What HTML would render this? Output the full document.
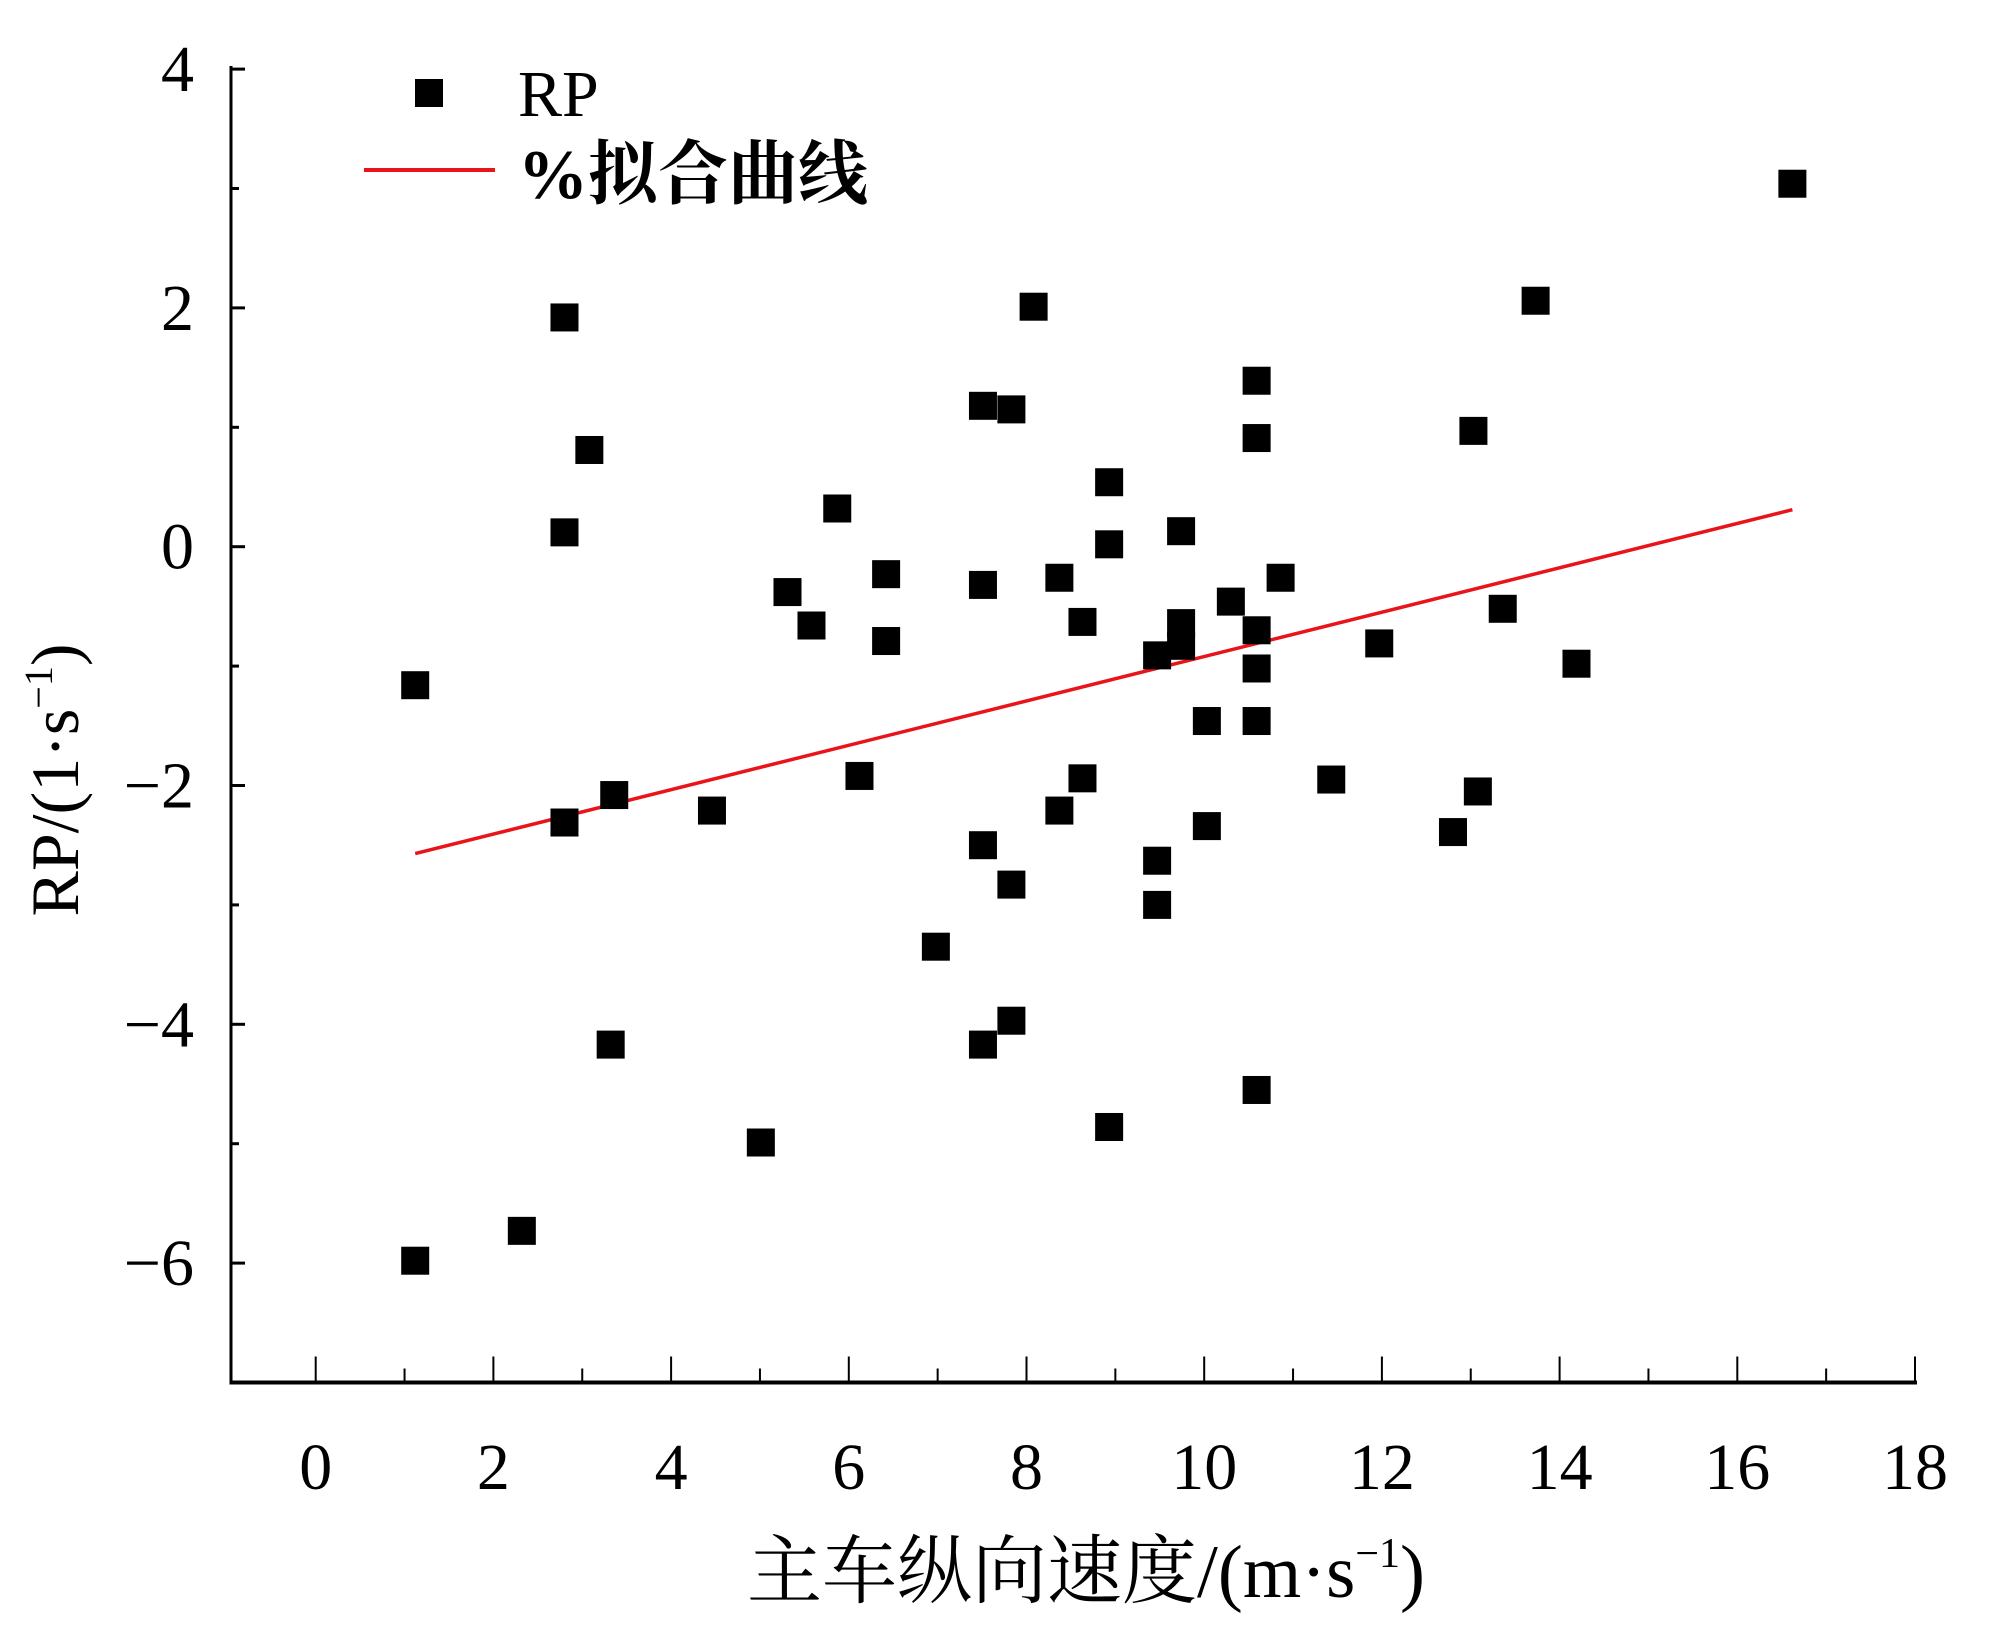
<!DOCTYPE html>
<html><head><meta charset="utf-8"><style>
html,body{margin:0;padding:0;background:#fff;}
svg{display:block;font-family:"Liberation Serif","Noto Serif CJK SC",serif;}
</style></head><body>
<svg id="chart" width="1994" height="1646" viewBox="0 0 1994 1646" xmlns="http://www.w3.org/2000/svg">
<g id="axes"></g>
<g id="fit"></g>
<g id="pts"></g>
<g>
  <rect x="415" y="79" width="28" height="28" fill="#000"/>
  <text x="518" y="116" font-size="66">RP</text>
  <line x1="364" y1="170" x2="495" y2="170" stroke="#e8141a" stroke-width="4"/>
  <text x="518" y="198" font-size="70" font-weight="bold" font-family="'Liberation Serif','Noto Serif CJK SC',serif">%拟合曲线</text>
</g>
<text x="1086" y="1597" font-size="75" text-anchor="middle">主车纵向速度/(m·s<tspan font-size="42" dy="-30">−1</tspan><tspan dy="30">)</tspan></text>
<text transform="translate(78,780) rotate(-90)" font-size="68" text-anchor="middle">RP/(1·s<tspan font-size="40" dy="-26">−1</tspan><tspan dy="26">)</tspan></text>
</svg>
<script>
const xTicks=[0,2,4,6,8,10,12,14,16,18];
const yTicks=[-6,-4,-2,0,2,4];
const yTickLabels=['−6','−4','−2','0','2','4'];
const xVals=[1.12,1.12,2.32,2.80,2.80,2.80,3.08,3.36,3.32,4.46,5.01,5.31,5.58,5.87,6.12,6.42,6.42,6.98,7.51,7.83,7.51,7.51,7.83,7.83,7.51,8.08,8.37,8.63,8.37,8.63,8.93,8.93,8.93,9.47,9.47,9.47,9.74,9.74,9.74,10.03,10.03,10.30,10.59,10.59,10.59,10.59,10.59,10.59,10.86,11.43,11.97,12.80,13.03,13.08,13.36,13.73,14.19,16.62];
const yVals=[-1.16,-5.98,-5.73,1.92,0.12,-2.31,0.81,-2.08,-4.17,-2.21,-4.99,-0.38,-0.66,0.32,-1.92,-0.23,-0.79,-3.35,1.18,1.15,-0.32,-2.50,-2.83,-3.97,-4.17,2.01,-0.26,-0.63,-2.21,-1.94,0.54,0.02,-4.86,-0.91,-2.63,-3.00,0.13,-0.64,-0.83,-1.46,-2.34,-0.46,1.39,0.91,-0.70,-1.02,-1.46,-4.55,-0.26,-1.95,-0.81,-2.39,0.97,-2.05,-0.52,2.06,-0.98,3.04];
const fitX=[1.12,16.62];
const fitY=[-2.57,0.31];

const NS='http://www.w3.org/2000/svg';
const X0=231,X1=1915,Y0=66,Y1=1382.5;
const sx=v=>315.7+v*(1915-315.7)/18;
const sy=v=>546.7-v*119.4;
function mk(tag,attrs,parent){const e=document.createElementNS(NS,tag);for(const k in attrs)e.setAttribute(k,attrs[k]);parent.appendChild(e);return e;}
const ax=document.getElementById('axes');
let e;
e=mk('line',{x1:X0,y1:Y0,x2:X0,y2:Y1+2,stroke:'#000','stroke-width':3},ax);


e=mk('line',{x1:X0-1,y1:Y1,x2:X1+2,y2:Y1,stroke:'#000','stroke-width':4},ax);


for(let i=0;i<xTicks.length;i++){
  const v=xTicks[i];
  e=mk('line',{x1:sx(v),y1:Y1,x2:sx(v),y2:Y1-26,stroke:'#000','stroke-width':2},ax);
  
  
  if(i<xTicks.length-1){
    e=mk('line',{x1:sx(v+1),y1:Y1,x2:sx(v+1),y2:Y1-14,stroke:'#000','stroke-width':2},ax);
    
    
  }
  e=mk('text',{x:sx(v),y:1489,'font-size':66,'text-anchor':'middle'},ax);
  e.textContent=String(v);
  
  
}
for(let v=-7;v<=4;v++){
  const major=yTicks.indexOf(v)>=0;
  e=mk('line',{x1:X0,y1:sy(v),x2:X0+(major?14:8),y2:sy(v),stroke:'#000','stroke-width':3},ax);
  
  
}
for(let i=0;i<yTicks.length;i++){
  e=mk('text',{x:194,y:sy(yTicks[i])+22,'font-size':66,'text-anchor':'end'},ax);
  e.textContent=yTickLabels[i];
  
  
}
const fg=document.getElementById('fit');
e=mk('line',{x1:sx(fitX[0]),y1:sy(fitY[0]),x2:sx(fitX[1]),y2:sy(fitY[1]),stroke:'#e8141a','stroke-width':3.5},fg);


const pg=document.getElementById('pts');
for(let i=0;i<xVals.length;i++){
  e=mk('rect',{x:sx(xVals[i])-14,y:sy(yVals[i])-14,width:28,height:28,fill:'#000'},pg);
  
  
}
</script>
</body></html>
